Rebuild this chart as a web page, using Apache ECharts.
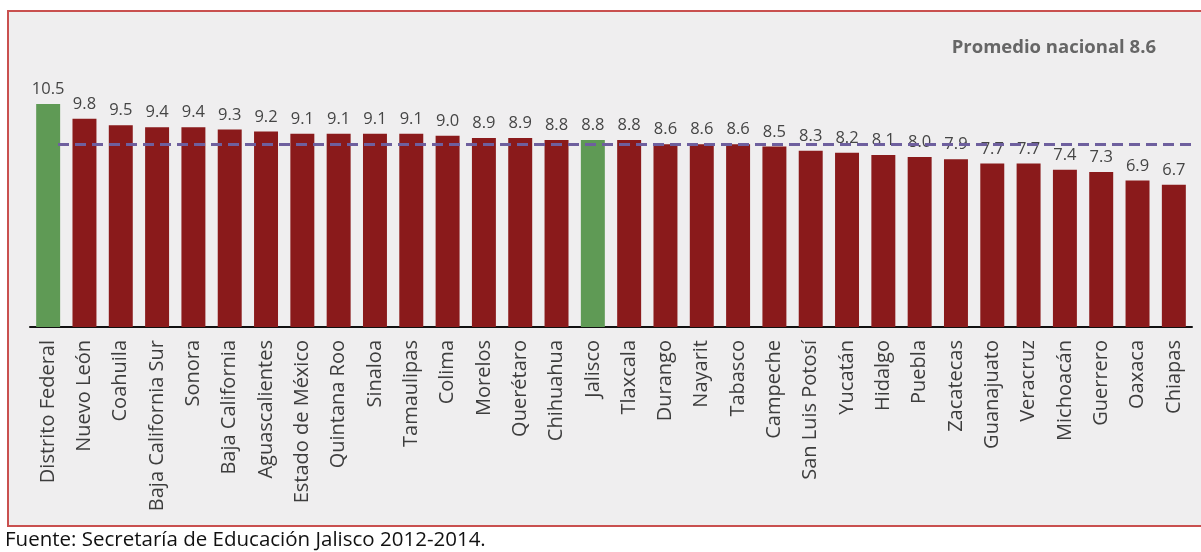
<!DOCTYPE html>
<html>
<head>
<meta charset="utf-8">
<script src="https://cdn.jsdelivr.net/npm/echarts@6/dist/echarts.min.js"></script>
<style>
html,body{margin:0;padding:0;background:#fff;}
#c{width:1201px;height:552px;}
</style>
</head>
<body>
<div id="c"></div>
<script>
const categories = ["Distrito Federal","Nuevo León","Coahuila","Baja California Sur","Sonora","Baja California","Aguascalientes","Estado de México","Quintana Roo","Sinaloa","Tamaulipas","Colima","Morelos","Querétaro","Chihuahua","Jalisco","Tlaxcala","Durango","Nayarit","Tabasco","Campeche","San Luis Potosí","Yucatán","Hidalgo","Puebla","Zacatecas","Guanajuato","Veracruz","Michoacán","Guerrero","Oaxaca","Chiapas"];
const values = [10.5,9.8,9.5,9.4,9.4,9.3,9.2,9.1,9.1,9.1,9.1,9.0,8.9,8.9,8.8,8.8,8.8,8.6,8.6,8.6,8.5,8.3,8.2,8.1,8.0,7.9,7.7,7.7,7.4,7.3,6.9,6.7];
const highlighted = ["Distrito Federal","Jalisco"];
const nationalAverage = 8.6;
const averageLabel = "Promedio nacional 8.6";
const sourceText = "Fuente: Secretaría de Educación Jalisco 2012-2014.";

const RED = '#8a1a1b', GREEN = '#5f9a55';
const chart = echarts.init(document.getElementById('c'));
chart.setOption({
  backgroundColor: '#ffffff',
  animation: false,
  graphic: [
    {type:'rect', z:-10, shape:{x:8, y:11, width:1200, height:515}, style:{fill:'#efeeef', stroke:'#c9504f', lineWidth:2}},
    {type:'text', z:10, x:1156, y:48, style:{text:averageLabel, align:'right', verticalAlign:'middle', font:'bold 18.5px "Open Sans"', fill:'#666666'}},
    {type:'text', z:10, x:5, y:540, style:{text:sourceText, align:'left', verticalAlign:'middle', font:'20.5px "Open Sans"', fill:'#111111'}}
  ],
  grid: {left:30, right:9, top:72, bottom:225},
  xAxis: {
    type:'category', data:categories,
    axisLine:{show:true, lineStyle:{color:'#111', width:2}},
    axisTick:{show:false},
    axisLabel:{rotate:90, interval:0, margin:13, color:'#3d3d3d', fontFamily:'Open Sans', fontSize:20}
  },
  yAxis: {type:'value', min:0, max:12, show:false, splitLine:{show:false}},
  series: [{
    type:'bar',
    barWidth:'66%',
    data: values.map((v,i)=>({value:v, itemStyle:{color: highlighted.includes(categories[i]) ? GREEN : RED}})),
    label:{show:true, position:'top', distance:6, color:'#454545', fontFamily:'Open Sans', fontSize:16.5,
      formatter:p=>p.value.toFixed(1)},
    markLine:{
      symbol:'none', silent:true, z:20,
      label:{show:false},
      lineStyle:{color:'#6e5f9e', type:[11,6], width:3},
      data:[[{coord:[0, nationalAverage], x:58},{coord:[31, nationalAverage], x:1192}]]
    }
  }]
});
</script>
</body>
</html>
